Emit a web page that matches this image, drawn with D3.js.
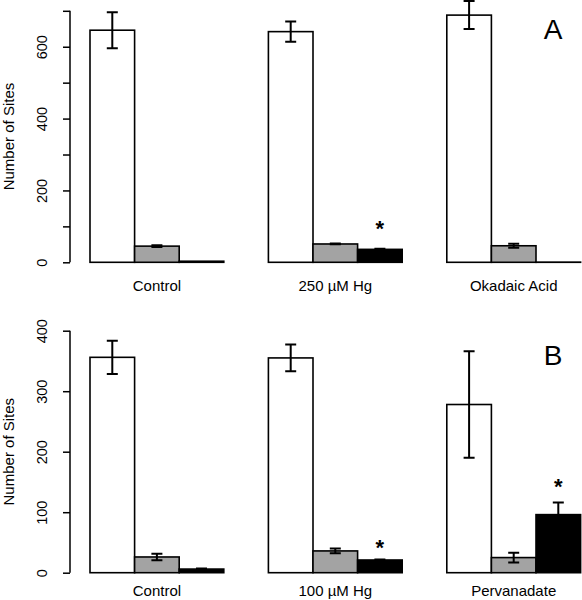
<!DOCTYPE html>
<html>
<head>
<meta charset="utf-8">
<script src="https://cdn.jsdelivr.net/npm/d3@7"></script>
<style>
  html, body { margin: 0; padding: 0; background: #fff; }
  svg { display: block; }
  text { font-family: "Liberation Sans", Arial, Helvetica, sans-serif; fill: #000; }
</style>
</head>
<body>
<svg id="chart" width="582" height="600"></svg>
<script>
// ---------- data ----------
const seriesNames = ["Series 1", "Series 2", "Series 3"];
const seriesFill = ["#ffffff", "#a3a3a3", "#000000"];

const groupsA = ["Control", "250 µM Hg", "Okadaic Acid"];
const meanA = [[646, 45, 3], [642, 51, 36], [688, 46, 0.5]];
const errA  = [[50, 2.5, 0], [28, 1, 2], [39, 5.5, 0]];
const starsA = [{ group: 1, series: 2, at: 112 }];
const ticksA = [0, 100, 200, 300, 400, 500, 600, 700];
const tickLabelsA = ["0", "", "200", "", "400", "", "600", ""];

const groupsB = ["Control", "100 µM Hg", "Pervanadate"];
const meanB = [[356, 26, 6], [355, 36, 21], [278, 25, 96]];
const errB  = [[27.5, 5.5, 1], [22, 4, 1], [88, 8, 20]];
const starsB = [{ group: 1, series: 2, at: 52 }, { group: 2, series: 2, at: 153 }];
const ticksB = [0, 100, 200, 300, 400];
const tickLabelsB = ["0", "100", "200", "300", "400"];

const yLabel = "Number of Sites";

// ---------- drawing ----------
const svg = d3.select("#chart");
// bar slots: one gap slot before each group of three bars
const x = d3.scaleLinear().domain([0, 12]).range([45.4, 580.6]);
const slot = (g, s) => 1 + 4 * g + s;
const axisX = 70;

function panel(cfg) {
  const y = d3.scaleLinear().domain(cfg.domain).range(cfg.range);
  const gp = svg.append("g");

  // y axis
  const axis = d3.axisLeft(y)
    .tickValues(cfg.ticks)
    .tickSize(7)
    .tickFormat((d, i) => cfg.tickLabels[i]);
  const ax = gp.append("g").attr("transform", `translate(${axisX},0)`).call(axis);
  ax.select(".domain").attr("d", `M0,${y(cfg.domain[0])}V${y(cfg.domain[1])}`)
    .attr("stroke", "#000").attr("stroke-width", 1.5).attr("fill", "none");
  ax.selectAll(".tick line").attr("stroke", "#000").attr("stroke-width", 1.5);
  ax.selectAll(".tick text")
    .attr("x", null).attr("dy", null)
    .attr("transform", "translate(-23,0) rotate(-90)")
    .attr("text-anchor", "middle")
    .attr("font-size", "14.5px")
    .attr("font-family", "Liberation Sans, Arial, sans-serif");

  // y label
  gp.append("text")
    .attr("transform", `translate(13.5,${(y(cfg.domain[0]) + y(cfg.domain[1])) / 2}) rotate(-90)`)
    .attr("text-anchor", "middle")
    .attr("font-size", "15px")
    .text(yLabel);

  // bars
  const bars = [];
  cfg.means.forEach((row, g) => row.forEach((v, s) => bars.push({ g, s, v, e: cfg.errs[g][s] })));
  gp.selectAll("rect.bar").data(bars).enter().append("rect")
    .attr("class", "bar")
    .attr("x", d => x(slot(d.g, d.s)))
    .attr("width", d => x(slot(d.g, d.s) + 1) - x(slot(d.g, d.s)))
    .attr("y", d => y(d.v))
    .attr("height", d => y(0) - y(d.v))
    .attr("fill", d => seriesFill[d.s])
    .attr("stroke", "#000")
    .attr("stroke-width", 1.6);

  // error bars
  const eb = bars.filter(d => d.e > 0);
  const cx = d => (x(slot(d.g, d.s)) + x(slot(d.g, d.s) + 1)) / 2;
  const cap = 5.5;
  const eg = gp.selectAll("g.err").data(eb).enter().append("g").attr("class", "err");
  eg.append("path")
    .attr("d", d => {
      const c = cx(d), t = y(d.v + d.e), b = y(d.v - d.e);
      return `M${c},${t}V${b}M${c - cap},${t}H${c + cap}M${c - cap},${b}H${c + cap}`;
    })
    .attr("stroke", "#000").attr("stroke-width", 2).attr("fill", "none");

  // group labels
  gp.selectAll("text.grp").data(cfg.groups).enter().append("text")
    .attr("class", "grp")
    .attr("x", (d, g) => (x(slot(g, 0)) + x(slot(g, 3))) / 2)
    .attr("y", cfg.labelY)
    .attr("text-anchor", "middle")
    .attr("font-size", "15px")
    .text(d => d);

  // significance stars
  gp.selectAll("text.star").data(cfg.stars).enter().append("text")
    .attr("class", "star")
    .attr("x", d => (x(slot(d.group, d.series)) + x(slot(d.group, d.series) + 1)) / 2)
    .attr("y", d => y(d.at))
    .attr("dy", "0.62em")
    .attr("text-anchor", "middle")
    .attr("font-size", "22px")
    .attr("font-weight", "bold")
    .text("*");

  // panel letter
  gp.append("text")
    .attr("x", 553).attr("y", cfg.letterY)
    .attr("text-anchor", "middle")
    .attr("font-size", "28px")
    .text(cfg.letter);
}

panel({
  domain: [0, 700], range: [262.3, 10.8],
  ticks: ticksA, tickLabels: tickLabelsA,
  groups: groupsA, means: meanA, errs: errA, stars: starsA,
  labelY: 291, letter: "A", letterY: 38.5
});
panel({
  domain: [0, 400], range: [572.7, 330.7],
  ticks: ticksB, tickLabels: tickLabelsB,
  groups: groupsB, means: meanB, errs: errB, stars: starsB,
  labelY: 596, letter: "B", letterY: 365
});
</script>
</body>
</html>
